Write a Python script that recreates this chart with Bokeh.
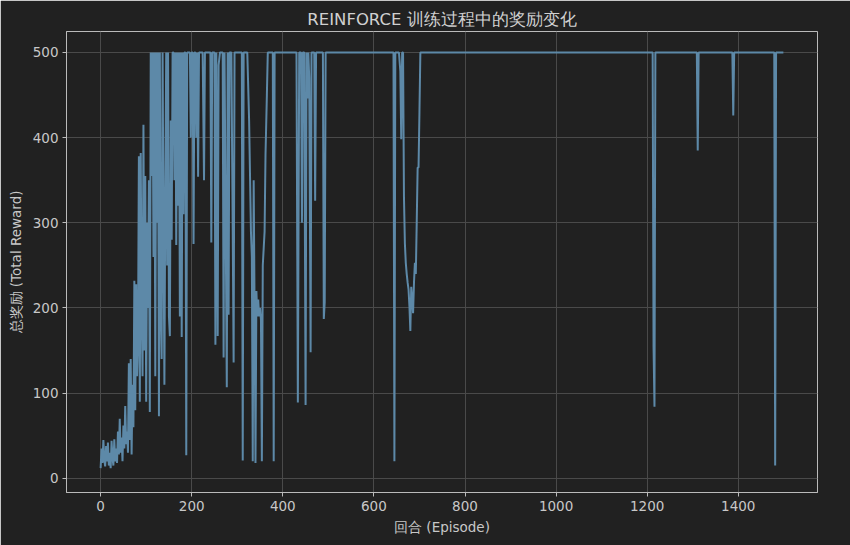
from bokeh.plotting import figure
from bokeh.models import Range1d, FixedTicker
from bokeh.embed import file_html
from bokeh.resources import INLINE

# Episode / total reward vertices
episodes = [0, 2, 4, 6, 8, 10, 12, 14, 16, 18, 20, 22, 24, 26, 28, 30, 32, 34, 36, 38,
            40, 42, 44, 46, 48, 50, 52, 54, 56, 58, 60, 62, 64, 66, 68, 70, 72, 74, 76, 78,
            80, 82, 84, 86, 88, 90, 92, 94, 96, 98, 100, 102, 104, 106, 108, 110, 112, 114,
            116, 118, 120, 122, 124, 126, 128, 130, 132, 134, 136, 138, 140, 142, 144, 146,
            148, 150, 152, 154, 156, 158, 160, 162, 164, 166, 168, 170, 172, 174, 176, 178,
            180, 182, 184, 186, 188, 190, 192, 194, 196, 198, 200, 202, 204, 206, 208, 210,
            212, 214, 216, 220, 224, 227, 229, 236, 241, 243, 245, 250, 252, 254, 257, 259,
            262, 268, 270, 272, 277, 279, 281, 283, 287, 290, 292, 294, 300, 310, 312, 314,
            322, 326, 328, 330, 332, 334, 336, 338, 340, 342, 344, 346, 348, 350, 352, 354,
            356, 358, 360, 362, 365, 367, 378, 380, 382, 430, 433, 436, 440, 442, 444, 447,
            450, 452, 454, 456, 458, 461, 463, 469, 471, 473, 488, 490, 492, 494, 640, 643,
            645, 647, 655, 658, 660, 662, 664, 666, 668, 670, 672, 674, 676, 678, 680, 682,
            684, 686, 688, 690, 692, 694, 696, 698, 700, 702, 1212, 1214, 1216, 1218, 1309,
            1311, 1313, 1387, 1389, 1391, 1479, 1481, 1483, 1499]
rewards = [12, 35, 18, 45, 22, 14, 38, 20, 42, 15, 30, 12, 44, 25, 15, 46, 20, 35, 18, 55,
           28, 70, 30, 48, 20, 62, 35, 85, 40, 55, 30, 135, 45, 140, 28, 110, 60, 232, 80, 228,
           120, 160, 378, 90, 382, 200, 120, 415, 150, 355, 90, 300, 200, 350, 78, 500, 355, 500,
           260, 500, 120, 500, 300, 500, 73, 500, 200, 140, 500, 300, 110, 340, 500, 250,
           500, 190, 167, 420, 280, 500, 500, 350, 500, 274, 500, 320, 500, 190, 500, 166,
           500, 310, 500, 500, 27, 500, 500, 500, 500, 400, 500, 500, 275, 500, 500, 400,
           500, 354, 500, 500, 500, 350, 500, 500, 500, 277, 500, 500, 157, 500, 167, 485,
           500, 500, 142, 500, 107, 500, 192, 500, 500, 290, 136, 500, 500, 500, 21, 500,
           500, 420, 355, 290, 260, 20, 350, 200, 18, 220, 190, 210, 190, 200, 186, 20,
           250, 270, 290, 380, 450, 500, 500, 20, 500, 500, 89, 500, 500, 300, 500, 500,
           86, 500, 446, 500, 470, 148, 500, 500, 326, 500, 500, 187, 207, 500, 500, 500,
           20, 500, 500, 478, 398, 500, 500, 330, 276, 253, 240, 230, 222, 202, 173, 225,
           210, 194, 230, 253, 240, 300, 365, 365, 430, 500, 500, 154, 84, 500, 500,
           385, 500, 500, 426, 500, 500, 15, 500, 500]

x_ticks = [0, 200, 400, 600, 800, 1000, 1200, 1400]
y_ticks = [0, 100, 200, 300, 400, 500]

BG = "#212121"
FG = "#c8c8c8"
GRID = "#4a4a4a"
FONT = "DejaVu Sans"

p = figure(width=850, height=545, output_backend="svg", toolbar_location=None,
           title="REINFORCE 训练过程中的奖励变化",
           x_range=Range1d(-74.95, 1573.95), y_range=Range1d(-16.6, 524.6))

p.min_border_left = 66
p.min_border_right = 33
p.min_border_top = 31
p.min_border_bottom = 53

p.background_fill_color = BG
p.border_fill_color = BG
p.outline_line_color = "#bbbbbb"
p.outline_line_width = 1

p.title.text_color = "#d0d0d0"
p.title.text_font = FONT
p.title.text_font_size = "16.5px"
p.title.text_font_style = "normal"
p.title.align = "center"
p.title.standoff = 5

p.line(episodes, rewards, line_color="#5d89a8", line_width=2)

for ax in (p.xaxis[0], p.yaxis[0]):
    ax.axis_line_color = "#bbbbbb"
    ax.major_tick_line_color = "#bbbbbb"
    ax.major_tick_out = 4
    ax.major_tick_in = 0
    ax.minor_tick_line_color = None
    ax.major_label_text_color = FG
    ax.major_label_text_font = FONT
    ax.major_label_text_font_size = "13.5px"
    ax.major_label_standoff = 4
    ax.axis_label_text_color = FG
    ax.axis_label_text_font = FONT
    ax.axis_label_text_font_size = "13.5px"
    ax.axis_label_text_font_style = "normal"

p.xaxis[0].ticker = FixedTicker(ticks=x_ticks)
p.yaxis[0].ticker = FixedTicker(ticks=y_ticks)
p.xaxis[0].axis_label = "回合 (Episode)"
p.yaxis[0].axis_label = "总奖励 (Total Reward)"
p.xaxis[0].axis_label_standoff = 5
p.yaxis[0].axis_label_standoff = 6

p.xgrid.grid_line_color = GRID
p.ygrid.grid_line_color = GRID
p.xgrid.grid_line_width = 1
p.ygrid.grid_line_width = 1

html = file_html(p, INLINE)
html = html.replace("<body>", "<body style=\"background:#212121;\">", 1)
open("out.html", "w").write(html)
